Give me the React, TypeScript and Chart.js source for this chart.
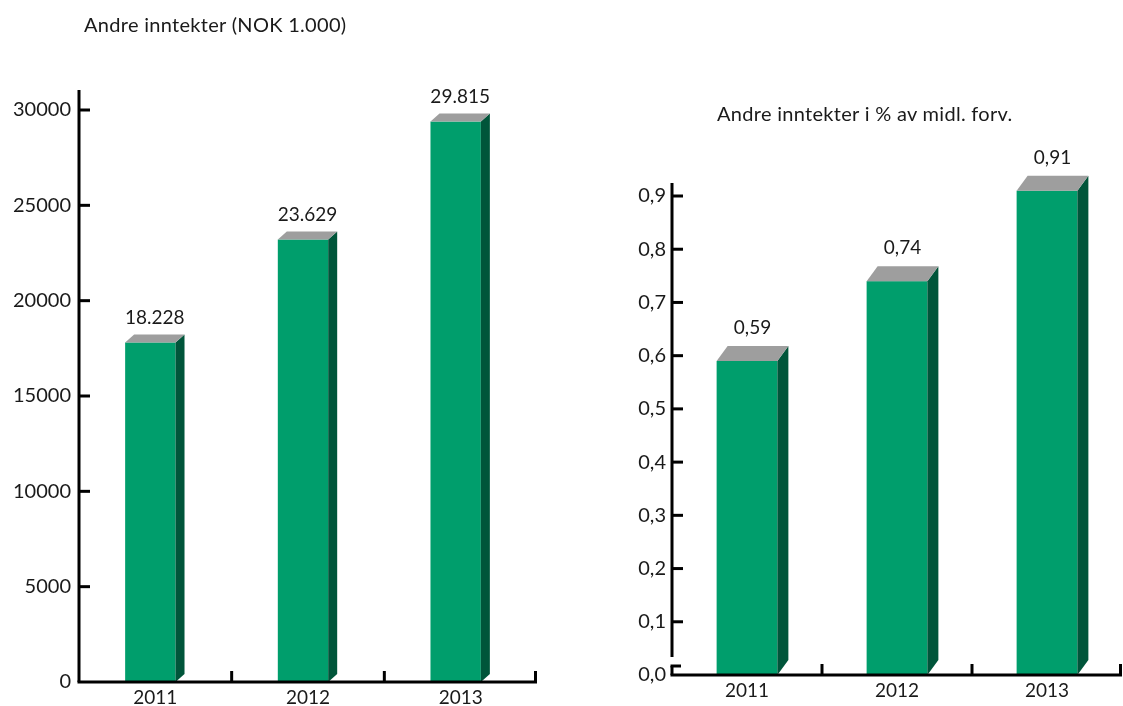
import React, { useEffect, useRef } from 'react';
import { Chart, registerables } from 'chart.js';

Chart.register(...registerables);

// Years on the category axis
const years = ['2011', '2012', '2013'];
// Other income, NOK 1.000
const incomeValues = [18228, 23629, 29815];
// Other income as % of average managed assets
const shareValues = [0.59, 0.74, 0.91];

const incomeTitle = 'Andre inntekter (NOK 1.000)';
const shareTitle = 'Andre inntekter i % av midl. forv.';

const FONT = 'Lato, "Noto Sans", sans-serif';
const TEXT = '#1a1a1a';
const FRONT = '#009E6C';
const SIDE = '#00553A';
const TOP = '#9E9E9E';

const fmtThousands = (v: number) => String(v).replace(/\B(?=(\d{3})+(?!\d))/g, '.');
const fmtComma = (v: number, d: number) => v.toFixed(d).replace('.', ',');

type BoxCfg = {
  dx: number;
  dy: number;
  shift: number;
  anchorBack: boolean;
  labelGap: number;
  format: (v: number) => string;
};

// Draws each bar as an extruded box (front, side and top faces) plus its value label.
function makeBoxPlugin(cfg: BoxCfg) {
  return {
    id: 'box3d',
    afterDatasetsDraw(chart: any) {
      const { ctx } = chart;
      const meta = chart.getDatasetMeta(0);
      const data = chart.data.datasets[0].data as number[];
      meta.data.forEach((el: any, i: number) => {
        const { x, y, base, width } = el.getProps(['x', 'y', 'base', 'width'], true);
        const { dx, dy } = cfg;
        const left = x - width / 2 + cfg.shift;
        const right = left + width;
        const frontTop = cfg.anchorBack ? y + dy : y;
        ctx.save();
        ctx.fillStyle = FRONT;
        ctx.fillRect(left, frontTop, width, base - frontTop);
        ctx.fillStyle = SIDE;
        ctx.beginPath();
        ctx.moveTo(right, frontTop);
        ctx.lineTo(right + dx, frontTop - dy);
        ctx.lineTo(right + dx, base - dy);
        ctx.lineTo(right, base);
        ctx.closePath();
        ctx.fill();
        ctx.fillStyle = TOP;
        ctx.beginPath();
        ctx.moveTo(left, frontTop);
        ctx.lineTo(left + dx, frontTop - dy);
        ctx.lineTo(right + dx, frontTop - dy);
        ctx.lineTo(right, frontTop);
        ctx.closePath();
        ctx.fill();
        ctx.fillStyle = TEXT;
        ctx.font = `19px ${FONT}`;
        ctx.textAlign = 'center';
        ctx.textBaseline = 'middle';
        ctx.fillText(cfg.format(data[i]), left + (width + dx) / 2, frontTop - dy - cfg.labelGap);
        ctx.restore();
      });
    },
  };
}

type AxisCfg = { overshoot: number; axisBreak: boolean };

// Black axis lines with inward tick marks and category separators.
function makeAxisPlugin(cfg: AxisCfg) {
  return {
    id: 'axes',
    afterDatasetsDraw(chart: any) {
      const { ctx, chartArea, scales } = chart;
      const { left, right, top, bottom } = chartArea;
      const xs = scales.x;
      const ys = scales.y;
      ctx.save();
      ctx.strokeStyle = '#000';
      ctx.lineWidth = 3;
      ctx.lineCap = 'butt';
      const seg = (x1: number, y1: number, x2: number, y2: number) => {
        ctx.beginPath();
        ctx.moveTo(x1, y1);
        ctx.lineTo(x2, y2);
        ctx.stroke();
      };
      if (cfg.axisBreak) {
        seg(left, top - cfg.overshoot, left, bottom - 18);
        seg(left, bottom - 9, left, bottom);
        seg(left - 1.5, bottom - 9, left + 9, bottom - 9);
      } else {
        seg(left, top - cfg.overshoot, left, bottom);
      }
      ys.ticks.forEach((t: any) => {
        if (t.value === 0) return;
        const py = ys.getPixelForValue(t.value);
        seg(left, py, left + 11, py);
      });
      seg(left - 1.5, bottom, right, bottom);
      for (let i = 1; i <= years.length; i++) {
        const px = xs.getPixelForValue(i - 0.5);
        seg(Math.min(px, right - 1.5), bottom, Math.min(px, right - 1.5), bottom - 11);
      }
      ctx.restore();
    },
  };
}

type ChartSpec = {
  values: number[];
  max: number;
  step: number;
  tickFmt: (v: number) => string;
  yWidth: number;
  xHeight: number;
  padTop: number;
  padRight: number;
  yPad: number;
  xPad: number;
  barPct: number;
  box: BoxCfg;
  axis: AxisCfg;
};

function buildChart(canvas: HTMLCanvasElement, spec: ChartSpec) {
  return new Chart(canvas, {
    type: 'bar',
    data: {
      labels: years,
      datasets: [
        {
          data: spec.values,
          backgroundColor: 'rgba(0,0,0,0)',
          borderWidth: 0,
          barPercentage: 1,
          categoryPercentage: spec.barPct,
        },
      ],
    },
    options: {
      responsive: false,
      animation: false,
      devicePixelRatio: 1,
      layout: { padding: { top: spec.padTop, right: spec.padRight, bottom: 0, left: 0 } },
      plugins: { legend: { display: false }, tooltip: { enabled: false }, title: { display: false } },
      scales: {
        x: {
          offset: true,
          grid: { display: false, drawTicks: false },
          border: { display: false },
          ticks: { color: TEXT, font: { family: FONT, size: 19 }, padding: spec.xPad, maxRotation: 0 },
          afterFit: (s: any) => {
            s.height = spec.xHeight;
          },
        },
        y: {
          min: 0,
          max: spec.max,
          grid: { display: false, drawTicks: false },
          border: { display: false },
          ticks: {
            stepSize: spec.step,
            color: TEXT,
            font: { family: FONT, size: 20 },
            padding: spec.yPad,
            callback: (v: any) => spec.tickFmt(Number(v)),
          },
          afterFit: (s: any) => {
            s.width = spec.yWidth;
          },
        },
      },
    },
    plugins: [makeBoxPlugin(spec.box), makeAxisPlugin(spec.axis)],
  } as any);
}

export default function App() {
  const leftRef = useRef<HTMLCanvasElement>(null);
  const rightRef = useRef<HTMLCanvasElement>(null);

  useEffect(() => {
    const left = buildChart(leftRef.current!, {
      values: incomeValues,
      max: 30000,
      step: 5000,
      tickFmt: (v) => String(Math.round(v)),
      yWidth: 79,
      xHeight: 24,
      padTop: 110,
      padRight: 23,
      yPad: 8,
      xPad: 4,
      barPct: 0.33,
      box: { dx: 9, dy: 8, shift: -5, anchorBack: true, labelGap: 17, format: fmtThousands },
      axis: { overshoot: 20, axisBreak: false },
    });
    const right = buildChart(rightRef.current!, {
      values: shareValues,
      max: 0.9,
      step: 0.1,
      tickFmt: (v) => fmtComma(v, 1),
      yWidth: 112,
      xHeight: 31,
      padTop: 196,
      padRight: 1,
      yPad: 6,
      xPad: 4,
      barPct: 0.405,
      box: { dx: 11, dy: 15, shift: 0, anchorBack: false, labelGap: 18, format: (v) => fmtComma(v, 2) },
      axis: { overshoot: 13, axisBreak: true },
    });
    return () => {
      left.destroy();
      right.destroy();
    };
  }, []);

  const titleStyle: React.CSSProperties = {
    position: 'absolute',
    fontFamily: FONT,
    fontSize: 20,
    color: TEXT,
    lineHeight: '24px',
    whiteSpace: 'nowrap',
  };

  return (
    <div
      style={{
        position: 'fixed',
        left: 0,
        top: 0,
        width: 1123,
        height: 706,
        background: '#fff',
        overflow: 'hidden',
      }}
    >
      <canvas ref={leftRef} width={560} height={706} style={{ position: 'absolute', left: 0, top: 0 }} />
      <canvas ref={rightRef} width={563} height={706} style={{ position: 'absolute', left: 560, top: 0 }} />
      <div style={{ ...titleStyle, left: 84, top: 12, letterSpacing: '0.3px' }}>{incomeTitle}</div>
      <div style={{ ...titleStyle, left: 717, top: 101, letterSpacing: '0.3px' }}>{shareTitle}</div>
    </div>
  );
}
